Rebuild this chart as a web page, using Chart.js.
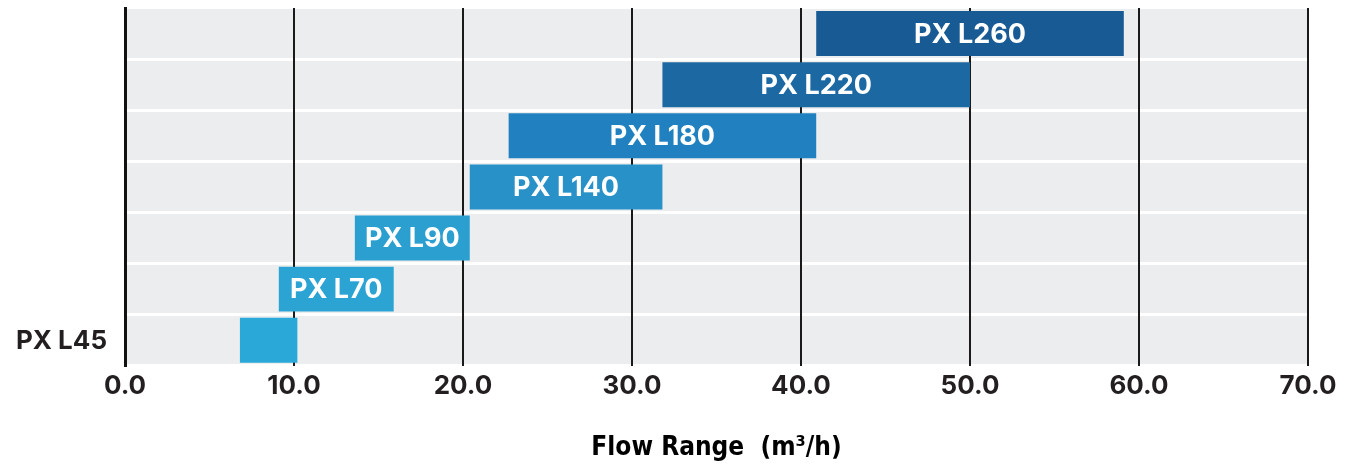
<!DOCTYPE html>
<html>
<head>
<meta charset="utf-8">
<script src="https://cdn.jsdelivr.net/npm/chart.js@4.4.1/dist/chart.umd.min.js"></script>
<style>
  html, body { margin: 0; padding: 0; background: #ffffff; }
  #wrap { width: 1359px; height: 464px; position: relative; }
</style>
</head>
<body>
<div id="wrap"><canvas id="c"></canvas></div>
<script>
// ---- data ----
const categories = ['PX L45', 'PX L70', 'PX L90', 'PX L140', 'PX L180', 'PX L220', 'PX L260'];
const flowMin = [6.8, 9.1, 13.6, 20.4, 22.7, 31.8, 40.9];
const flowMax = [10.2, 15.9, 20.4, 31.8, 40.9, 50.0, 59.1];
const xTicks = [0, 10, 20, 30, 40, 50, 60, 70];
const axisTitle = 'Flow Range  (m³/h)';
const labelOnAxis = ['PX L45'];

// ---- styles ----
const barColors = [
  ['#2aa8d8', '#259bcc'],
  ['#2ba3d3', '#2490c4'],
  ['#2b9fd0', '#2489c0'],
  ['#2791c8', '#1f70a9'],
  ['#2180bf', '#1a679f'],
  ['#1c68a2', '#16538a'],
  ['#185a94', '#13467c']
];
const textFont = 'Inter, "Noto Sans", sans-serif';

const bgPlugin = {
  id: 'plotBg',
  beforeDraw(chart) {
    const { ctx, chartArea: a } = chart;
    ctx.save();
    ctx.fillStyle = '#ecedef';
    ctx.fillRect(a.left, a.top, a.right - a.left, a.bottom - a.top);
    ctx.restore();
  }
};

const barLabelPlugin = {
  id: 'barLabels',
  afterDatasetsDraw(chart) {
    const { ctx, chartArea } = chart;
    const meta = chart.getDatasetMeta(0);
    ctx.save();
    meta.data.forEach((el, i) => {
      const name = categories[i];
      ctx.textBaseline = 'middle';
      if (labelOnAxis.includes(name)) {
        ctx.fillStyle = '#231f20';
        ctx.font = '700 26px ' + textFont;
        ctx.textAlign = 'right';
        ctx.fillText(name, chartArea.left - 18, el.y + 1);
        return;
      }
      ctx.fillStyle = '#ffffff';
      ctx.font = '700 27px ' + textFont;
      ctx.textAlign = 'center';
      const cx = (el.x + el.base) / 2;
      ctx.fillText(name, cx, el.y + 1);
    });
    ctx.restore();
  }
};

const ctx = document.getElementById('c').getContext('2d');
new Chart(ctx, {
  type: 'bar',
  data: {
    labels: categories,
    datasets: [{
      data: categories.map((_, i) => [flowMin[i], flowMax[i]]),
      backgroundColor(c) {
        const chart = c.chart;
        const el = chart.getDatasetMeta(0).data[c.dataIndex];
        const cols = barColors[c.dataIndex] || ['#2a9ccd', '#1d6ea8'];
        if (!el || !chart.chartArea || el.x === undefined || isNaN(el.x)) return cols[0];
        const x0 = Math.min(el.x, el.base), x1 = Math.max(el.x, el.base);
        const g = chart.ctx.createLinearGradient(x0, 0, x1, 0);
        g.addColorStop(0, cols[0]);
        g.addColorStop(1, cols[1]);
        return g;
      },
      borderWidth: 0,
      borderSkipped: false,
      barPercentage: 0.88,
      categoryPercentage: 1.0
    }]
  },
  options: {
    indexAxis: 'y',
    responsive: true,
    maintainAspectRatio: false,
    animation: false,
    layout: { padding: { left: 125, right: 51, top: 8, bottom: 3 } },
    plugins: {
      legend: { display: false },
      tooltip: { enabled: false }
    },
    scales: {
      x: {
        type: 'linear',
        min: xTicks[0],
        max: xTicks[xTicks.length - 1],
        afterBuildTicks(scale) { scale.ticks = xTicks.map(v => ({ value: v })); },
        grid: { color: '#1a1a1a', lineWidth: 2, drawTicks: false, z: -1 },
        border: { display: false },
        ticks: {
          padding: 5,
          color: '#231f20',
          font: { family: textFont, size: 26, weight: '700' },
          callback: v => Number(v).toFixed(1)
        },
        title: {
          display: true,
          text: axisTitle,
          color: '#000000',
          font: { family: '"Liberation Sans Narrow", "DejaVu Sans Condensed", sans-serif', size: 26, weight: '700', lineHeight: 1.0 },
          padding: { top: 28, bottom: 0 }
        }
      },
      y: {
        reverse: true,
        grid: { color: '#ffffff', lineWidth: 3, drawTicks: false, offset: true, z: -2 },
        border: { display: true, color: '#111111', width: 3, z: 1 },
        ticks: { display: false }
      }
    }
  },
  plugins: [bgPlugin, barLabelPlugin]
});
</script>
</body>
</html>
